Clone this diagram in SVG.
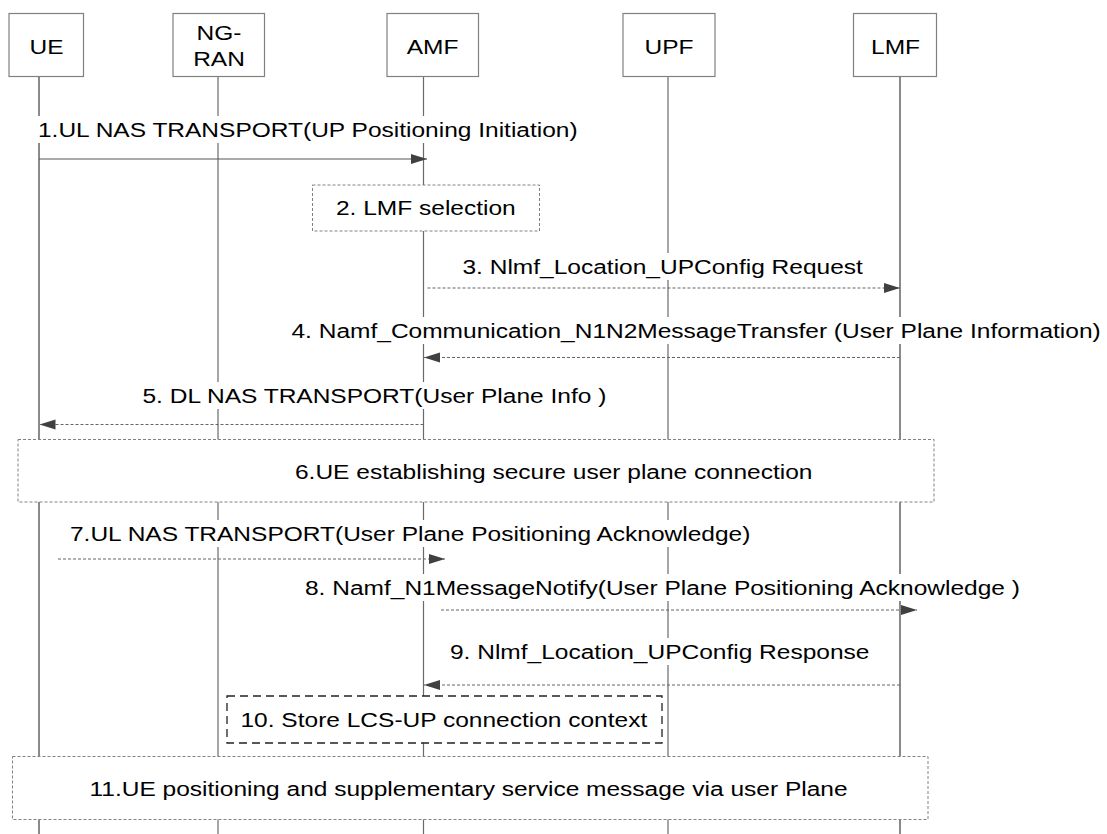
<svg xmlns="http://www.w3.org/2000/svg" width="1107" height="834" viewBox="0 0 1107 834">
<style>
.lbl{font-family:"Liberation Sans",Arial,sans-serif;font-size:21px;fill:#000}
.bg{fill:#fff}
.life{stroke:#6a6a6a;stroke-width:1.2}
.lifew{stroke:#8a8a8a;stroke-width:2}
.nbox{fill:#fff;stroke:#808080;stroke-width:1.2}
.msg{stroke:#555;stroke-width:1.1;fill:none}
.dash{stroke:#666;stroke-dasharray:3 2}
.abox{fill:#fff;stroke:#808080;stroke-width:1;stroke-dasharray:3 2}
.sbox{fill:#fff;stroke:#222;stroke-width:1.3;stroke-dasharray:8 5}
</style>
<defs>
<marker id="ah" markerUnits="userSpaceOnUse" markerWidth="17" markerHeight="11" refX="16" refY="5.5" orient="auto">
<path d="M0,0.5 L16,5.5 L0,10.5 z" fill="#404040"/>
</marker>
</defs>
<rect width="1107" height="834" fill="#fff"/>

<g id="node-UE">
<line class="lifew" x1="39" y1="76.5" x2="39" y2="834"/>
<rect class="nbox" x="9" y="13.5" width="74.5" height="63"/>
<text class="lbl" text-anchor="middle" transform="translate(46.5,54) scale(1.167,1)">UE</text>
</g>
<g id="node-NGRAN">
<line class="life" x1="218" y1="76.5" x2="218" y2="834"/>
<rect class="nbox" x="173" y="13.5" width="91.5" height="63"/>
<text class="lbl" text-anchor="middle" transform="translate(219,40) scale(1.167,1)">NG-</text>
<text class="lbl" text-anchor="middle" transform="translate(219,66) scale(1.167,1)">RAN</text>
</g>
<g id="node-AMF">
<line class="life" x1="423.5" y1="76.5" x2="423.5" y2="834"/>
<rect class="nbox" x="387" y="13.5" width="91.5" height="63"/>
<text class="lbl" text-anchor="middle" transform="translate(432.5,54) scale(1.167,1)">AMF</text>
</g>
<g id="node-UPF">
<line class="life" x1="668" y1="76.5" x2="668" y2="834"/>
<rect class="nbox" x="623" y="13.5" width="92" height="63"/>
<text class="lbl" text-anchor="middle" transform="translate(669,54) scale(1.167,1)">UPF</text>
</g>
<g id="node-LMF">
<line class="lifew" x1="900" y1="76.5" x2="900" y2="834"/>
<rect class="nbox" x="853.5" y="13.5" width="83" height="63"/>
<text class="lbl" text-anchor="middle" transform="translate(895.5,54) scale(1.167,1)">LMF</text>
</g>

<g id="connectors">
<g id="m1">
<line class="msg" x1="39" y1="159" x2="427" y2="159" marker-end="url(#ah)"/>
<rect class="bg" x="38" y="116" width="542" height="27"/>
<text class="lbl" transform="translate(38,137) scale(1.167,1)">1.UL NAS TRANSPORT(UP Positioning Initiation)</text>
</g>
<g id="m3">
<line class="msg dash" x1="427.5" y1="288" x2="900" y2="288" marker-end="url(#ah)"/>
<rect class="bg" x="462" y="253" width="401" height="27"/>
<text class="lbl" transform="translate(462.5,274) scale(1.167,1)">3. Nlmf_Location_UPConfig Request</text>
</g>
<g id="m4">
<line class="msg dash" x1="900" y1="357.5" x2="424" y2="357.5" marker-end="url(#ah)"/>
<rect class="bg" x="291" y="317" width="810" height="27"/>
<text class="lbl" transform="translate(291.5,338) scale(1.167,1)">4. Namf_Communication_N1N2MessageTransfer (User Plane Information)</text>
</g>
<g id="m5">
<line class="msg dash" x1="423.5" y1="424.5" x2="39.5" y2="424.5" marker-end="url(#ah)"/>
<rect class="bg" x="142" y="382" width="466" height="27"/>
<text class="lbl" transform="translate(142.5,403) scale(1.167,1)">5. DL NAS TRANSPORT(User Plane Info )</text>
</g>
<g id="m7">
<line class="msg dash" x1="58" y1="559" x2="445" y2="559" marker-end="url(#ah)"/>
<rect class="bg" x="70" y="520" width="684" height="27"/>
<text class="lbl" transform="translate(70,541) scale(1.167,1)">7.UL NAS TRANSPORT(User Plane Positioning Acknowledge)</text>
</g>
<g id="m8">
<line class="msg dash" x1="441" y1="610" x2="917" y2="610" marker-end="url(#ah)"/>
<rect class="bg" x="305" y="574" width="716" height="27"/>
<text class="lbl" transform="translate(305,595) scale(1.167,1)">8. Namf_N1MessageNotify(User Plane Positioning Acknowledge )</text>
</g>
<g id="m9">
<line class="msg dash" x1="900" y1="685" x2="424" y2="685" marker-end="url(#ah)"/>
<rect class="bg" x="450" y="638" width="420" height="27"/>
<text class="lbl" transform="translate(450,659) scale(1.167,1)">9. Nlmf_Location_UPConfig Response</text>
</g>
</g>

<g id="step2">
<rect class="abox" x="312.5" y="185" width="227" height="46"/>
<text class="lbl" transform="translate(336,215) scale(1.167,1)">2. LMF selection</text>
</g>
<g id="step6">
<rect class="abox" x="18" y="439.5" width="916" height="62.5"/>
<text class="lbl" transform="translate(295,479) scale(1.167,1)">6.UE establishing secure user plane connection</text>
</g>
<g id="step10">
<rect class="sbox" x="227" y="696" width="435" height="47"/>
<text class="lbl" transform="translate(240.5,727) scale(1.167,1)">10. Store LCS-UP connection context</text>
</g>
<g id="step11">
<rect class="abox" x="12.5" y="756.5" width="915.5" height="63"/>
<text class="lbl" transform="translate(89.5,796) scale(1.167,1)">11.UE positioning and supplementary service message via user Plane</text>
</g>
</svg>
